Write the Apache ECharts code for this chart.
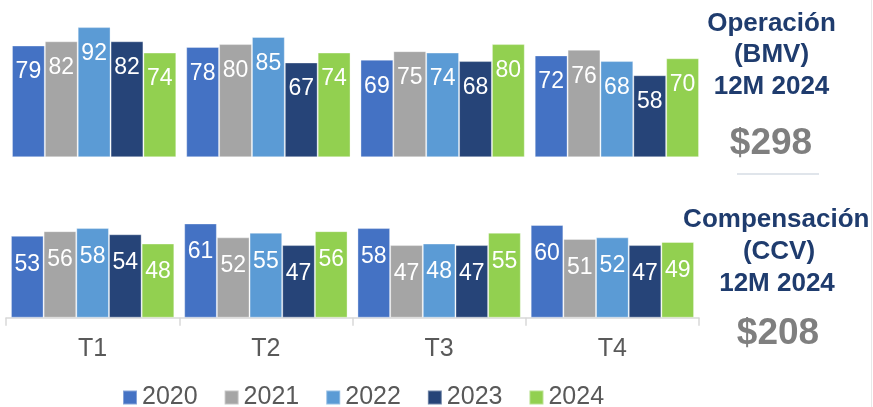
<!DOCTYPE html>
<html>
<head>
<meta charset="utf-8">
<script src="https://cdn.jsdelivr.net/npm/echarts@6/dist/echarts.min.js"></script>
<style>html,body{margin:0;padding:0;background:#fff;}#c{width:873px;height:407px;}</style>
</head>
<body>
<div id="c"></div>
<script>
var categories = ['T1', 'T2', 'T3', 'T4'];
var years = ['2020', '2021', '2022', '2023', '2024'];
var colors = ['#4472C4', '#A5A5A5', '#5B9BD5', '#264478', '#92D050'];
// Operación (BMV) per year, per quarter
var op2020 = [79, 78, 69, 72];
var op2021 = [82, 80, 75, 76];
var op2022 = [92, 85, 74, 68];
var op2023 = [82, 67, 68, 58];
var op2024 = [74, 74, 80, 70];
// Compensación (CCV) per year, per quarter
var cc2020 = [53, 61, 58, 60];
var cc2021 = [56, 52, 47, 51];
var cc2022 = [58, 55, 48, 52];
var cc2023 = [54, 47, 47, 47];
var cc2024 = [48, 56, 55, 49];

var opSeries = [op2020, op2021, op2022, op2023, op2024];
var ccSeries = [cc2020, cc2021, cc2022, cc2023, cc2024];

var font = 'Liberation Sans, Arial, sans-serif';
var series = [];
function mk(data, i, axisIdx, dist) {
  return {
    type: 'bar', name: years[i], data: data,
    xAxisIndex: axisIdx, yAxisIndex: axisIdx,
    barGap: '0%', barCategoryGap: '5.7%',
    itemStyle: { color: colors[i], borderColor: 'rgba(255,255,255,0.35)', borderWidth: 1 },
    label: { show: true, position: 'insideTop', distance: dist, color: '#fff',
      fontSize: 23, lineHeight: 23, fontFamily: font },
    emphasis: { disabled: true }, animation: false
  };
}
opSeries.forEach(function (d, i) { series.push(mk(d, i, 0, 15)); });
ccSeries.forEach(function (d, i) { series.push(mk(d, i, 1, 17)); });

var blue = '#1F3C6E', gray = '#7F7F7F';
function txt(t, x, y, size, color) {
  return { type: 'text', x: x, y: y, style: { text: t, fill: color,
    font: 'bold ' + size + 'px ' + font, textAlign: 'center', textVerticalAlign: 'middle' } };
}

var chart = echarts.init(document.getElementById('c'));
chart.setOption({
  animation: false,
  legend: {
    data: years, left: 122, top: 385, padding: 0, itemWidth: 14, itemHeight: 14, itemGap: 26,
    icon: 'rect', textStyle: { fontSize: 25, color: '#595959', fontFamily: font }
  },
  grid: [
    { left: 7, right: 169, top: 15.8, height: 141.5 },
    { left: 6, right: 174, top: 163.2, height: 154.5 }
  ],
  xAxis: [
    { type: 'category', gridIndex: 0, data: categories, axisLine: { show: false },
      axisTick: { show: false }, axisLabel: { show: false } },
    { type: 'category', gridIndex: 1, data: categories,
      axisLine: { lineStyle: { color: '#D9D9D9', width: 1.5 } },
      axisTick: { show: true, length: 8, lineStyle: { color: '#D9D9D9', width: 1.5 } },
      axisLabel: { fontSize: 25, color: '#595959', margin: 19, fontFamily: font } }
  ],
  yAxis: [
    { type: 'value', gridIndex: 0, min: 0, max: 100, show: false },
    { type: 'value', gridIndex: 1, min: 0, max: 100, show: false }
  ],
  series: series,
  graphic: [
    txt('Operación', 771.5, 23.5, 26, blue),
    txt('(BMV)', 771.5, 55, 26, blue),
    txt('12M 2024', 771.5, 86.5, 26, blue),
    txt('$298', 771, 143.5, 37, gray),
    { type: 'line', shape: { x1: 737, y1: 174, x2: 819, y2: 174 }, style: { stroke: '#D6DCE5', lineWidth: 1.5 } },
    txt('Compensación', 776.3, 220, 26, blue),
    txt('(CCV)', 779, 252, 26, blue),
    txt('12M 2024', 777, 283.5, 26, blue),
    txt('$208', 778, 333.5, 37, gray),
    { type: 'line', shape: { x1: 871.5, y1: 0, x2: 871.5, y2: 407 }, style: { stroke: '#E8E8E8', lineWidth: 1 } }
  ]
});
</script>
</body>
</html>
